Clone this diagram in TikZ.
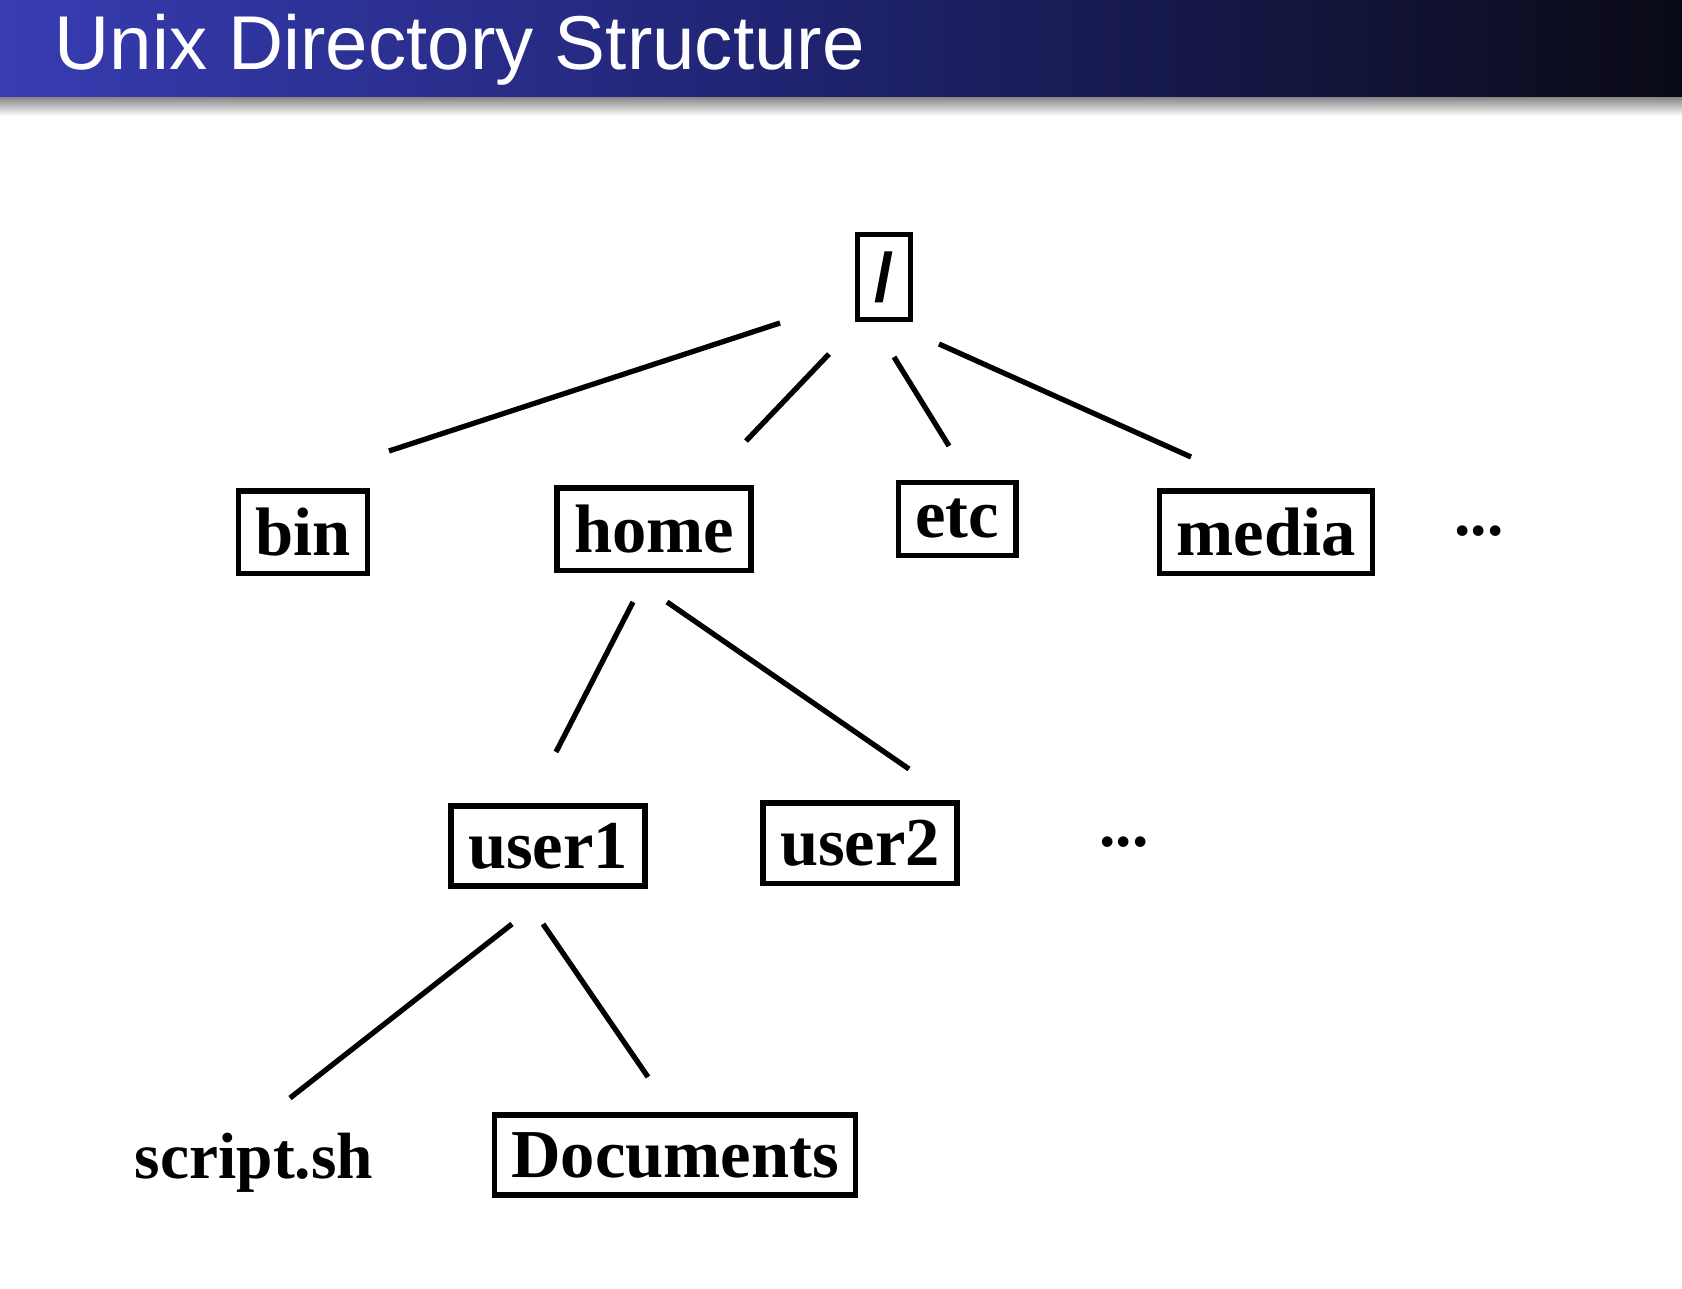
\documentclass[tikz,border=0pt]{standalone}
\usepackage{fontspec}
\setmainfont{Liberation Serif}
\setsansfont{Liberation Sans}
\usetikzlibrary{positioning}
\definecolor{barleft}{RGB}{55,60,178}
\definecolor{barmid}{RGB}{30,34,108}
\definecolor{barright}{RGB}{10,10,22}
\tikzset{
  dirbox/.style={draw,line width=1.5pt,inner xsep=0.17cm,inner ysep=0.17cm,font=\fontsize{19.5}{23}\selectfont\bfseries},
  filenode/.style={inner sep=0.17cm,font=\fontsize{18.6}{23}\selectfont\bfseries},
  link/.style={line width=1.5pt}
}
\begin{document}
\begin{tikzpicture}[x=0.01cm,y=-0.01cm]
\useasboundingbox (0,0) rectangle (1682,1288);
% title bar
\shade[left color=barleft,right color=barright,middle color=barmid] (0,0) rectangle (1682,98);
\shade[top color=black!45,bottom color=white] (0,98) rectangle (1682,116);
\node[anchor=base west,text=white,inner sep=0pt,font=\fontsize{21.7}{26}\selectfont\sffamily] (title) at (54,70) {Unix Directory Structure};
% directories
\node[dirbox] (root) at (884,277) {\textsf{/}};
\node[dirbox] (bin) at (303,532) {bin};
\node[dirbox] (home) at (654,529) {home};
\node[dirbox] (etc) at (957,519) {etc};
\node[dirbox] (media) at (1266,532) {media};
\node[filenode] (more1) at (1479,531) {...};
\node[dirbox] (user1) at (548,846) {user1};
\node[dirbox] (user2) at (860,843) {user2};
\node[filenode] (more2) at (1124,842) {...};
\node[filenode] (script) at (254,1163) {script.sh};
\node[dirbox] (docs) at (675,1155) {Documents};
% line ends
\coordinate (r1) at (780,323); \coordinate (b1) at (389,451);
\coordinate (r2) at (829,354); \coordinate (h1) at (746,441);
\coordinate (r3) at (894,357); \coordinate (e1) at (949,446);
\coordinate (r4) at (939,344); \coordinate (m1) at (1191,457);
\coordinate (h2) at (633,602); \coordinate (u1) at (556,752);
\coordinate (h3) at (667,602); \coordinate (u2) at (909,769);
\coordinate (u3) at (512,924); \coordinate (s1) at (290,1098);
\coordinate (u4) at (543,924); \coordinate (d1) at (648,1077);
\draw[link] (r1) -- (b1);
\draw[link] (r2) -- (h1);
\draw[link] (r3) -- (e1);
\draw[link] (r4) -- (m1);
\draw[link] (h2) -- (u1);
\draw[link] (h3) -- (u2);
\draw[link] (u3) -- (s1);
\draw[link] (u4) -- (d1);
\end{tikzpicture}
\end{document}
